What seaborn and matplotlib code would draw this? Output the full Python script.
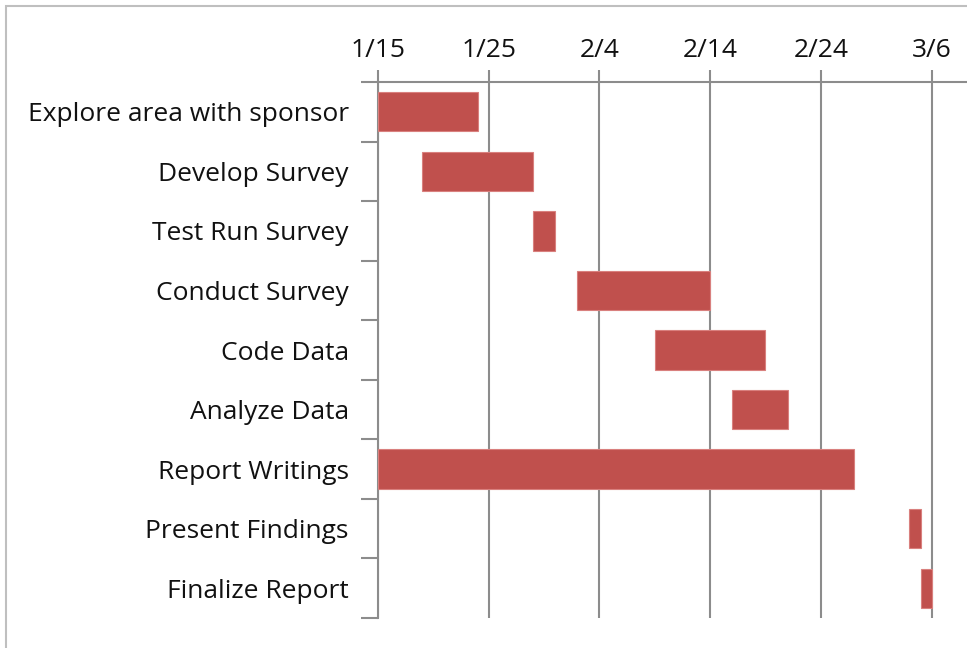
import pandas as pd
import matplotlib.pyplot as plt
import matplotlib.patches as mpatches
import seaborn as sns

# --- data ---
tasks = ['Explore area with sponsor', 'Develop Survey', 'Test Run Survey',
         'Conduct Survey', 'Code Data', 'Analyze Data', 'Report Writings',
         'Present Findings', 'Finalize Report']
start_dates = ['1/15', '1/19', '1/29', '2/2', '2/9', '2/16', '1/15', '3/4', '3/5']
end_dates = ['1/24', '1/29', '1/31', '2/14', '2/19', '2/21', '2/27', '3/5', '3/6']
tick_labels = ['1/15', '1/25', '2/4', '2/14', '2/24', '3/6']

YEAR = 2015
origin = pd.Timestamp(f'{YEAR}-01-15')


def to_day(s):
    return (pd.to_datetime(f'{YEAR}/{s}', format='%Y/%m/%d') - origin).days


df = pd.DataFrame({
    'task': tasks,
    'start': [to_day(s) for s in start_dates],
    'end': [to_day(s) for s in end_dates],
})
df['duration'] = df['end'] - df['start']
tick_pos = [to_day(t) for t in tick_labels]

sns.set_theme(style='white')
plt.rcParams['font.family'] = ['Open Sans', 'DejaVu Sans']

fig = plt.figure(figsize=(9.67, 6.48), dpi=100)
ax = fig.add_axes([378 / 967, 1 - 618 / 648, 1 - 378 / 967, (618 - 82) / 648])

sns.barplot(data=df, x='duration', y='task', orient='h', color='#C0504D',
            saturation=1, width=0.66, edgecolor='#D9807E', linewidth=0.8,
            ax=ax, zorder=3)
# shift each bar to its start day
for patch, s in zip(ax.patches, df['start']):
    patch.set_x(s)

ax.set_xlim(0, 53.2)
ax.set_ylim(len(tasks) - 0.5, -0.5)

grid_c = '#8C8C8C'
txt_c = '#111111'
ax.xaxis.tick_top()
ax.set_xticks(tick_pos)
ax.set_xticklabels(tick_labels, fontsize=19, color=txt_c)
ax.tick_params(axis='x', which='major', length=9, width=1.5, color=grid_c, pad=5,
               direction='out')
for x in tick_pos:
    ax.axvline(x, color=grid_c, lw=1.5, zorder=1)

ax.set_yticks(range(len(tasks)))
ax.set_yticklabels(tasks, fontsize=19, color=txt_c)
ax.tick_params(axis='y', which='major', length=0, pad=21)
ax.set_yticks([i - 0.5 for i in range(len(tasks) + 1)], minor=True)
ax.tick_params(axis='y', which='minor', length=12, width=1.5, color=grid_c,
               direction='out', left=True)

ax.set_xlabel('')
ax.set_ylabel('')
for side in ['right', 'bottom']:
    ax.spines[side].set_visible(False)
for side in ['top', 'left']:
    ax.spines[side].set_color(grid_c)
    ax.spines[side].set_linewidth(1.5)

# light chart-area border
fig.patches.append(mpatches.Rectangle((6 / 967, -0.05), 1.1, 1 - 6 / 648 + 0.05,
                                      transform=fig.transFigure, fill=False,
                                      edgecolor='#BFBFBF', lw=1.5))

fig.savefig('out.png', dpi=100)
